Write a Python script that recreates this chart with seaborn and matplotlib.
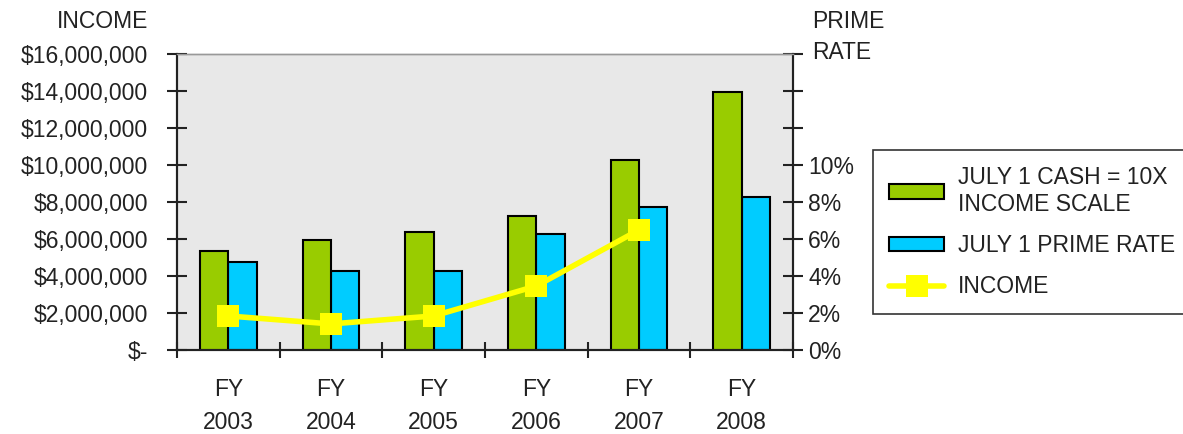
import matplotlib
matplotlib.use("Agg")
import matplotlib.pyplot as plt
import matplotlib.ticker as mticker
from matplotlib.lines import Line2D
from matplotlib.patches import Patch
import numpy as np
import pandas as pd
import seaborn as sns

# datos
years = ["2003", "2004", "2005", "2006", "2007", "2008"]
cash = [5370000, 5930000, 6370000, 7230000, 10270000, 13960000]   # julio 1 cash (escala 10x ingreso)
prime = [4.75, 4.25, 4.25, 6.25, 7.75, 8.25]                       # julio 1 prime rate (%)
income = [1840000, 1410000, 1840000, 3460000, 6490000, np.nan]     # ingreso

series_names = ["JULY 1 CASH = 10X\nINCOME SCALE", "JULY 1 PRIME RATE"]
colors = {series_names[0]: "#99CC00", series_names[1]: "#00CCFF"}
labels = ["FY\n" + y for y in years]

df_cash = pd.DataFrame({"year": labels, "value": cash, "series": series_names[0]})
df_prime = pd.DataFrame({"year": labels, "value": prime, "series": series_names[1]})

sns.set_theme(style="white")
plt.rcParams["font.family"] = ["Liberation Sans", "DejaVu Sans"]
size = 16.5
txt = "#222222"

fig = plt.figure(figsize=(11.83, 4.34), dpi=100)
ax = fig.add_axes([177 / 1183, 84 / 434, (793 - 177) / 1183, (350 - 54) / 434])
ax2 = ax.twinx()

# barras: cash en eje izquierdo, prime en eje derecho (misma escala 1% = $1M)
sns.barplot(data=df_cash, x="year", y="value", hue="series", hue_order=series_names,
            palette=colors, width=0.55, saturation=1, edgecolor="black", linewidth=1.5,
            dodge=True, legend=False, ax=ax)
sns.barplot(data=df_prime, x="year", y="value", hue="series", hue_order=series_names,
            palette=colors, width=0.55, saturation=1, edgecolor="black", linewidth=1.5,
            dodge=True, legend=False, ax=ax2)

# línea de ingreso sobre las barras
ax.set_zorder(ax2.get_zorder() + 1)
ax.patch.set_visible(False)
ax2.patch.set_visible(True)
ax2.patch.set_facecolor("#E8E8E8")
sns.lineplot(x=np.arange(len(years)), y=income, color="#FFFF00", lw=4, marker="s",
             markersize=16, markeredgewidth=0, ax=ax, zorder=5)

ax.set_xlim(-0.5, len(years) - 0.5)
ax.set_ylim(0, 16000000)
ax2.set_ylim(0, 16)

# ticks eje izquierdo
ax.set_yticks(np.arange(0, 16000001, 2000000))
ax.yaxis.set_major_formatter(mticker.FuncFormatter(
    lambda v, p: "$-" if v == 0 else "${:,.0f}".format(v)))
ax.tick_params(axis="y", direction="inout", length=14, width=1.5, color="#222222",
               labelsize=size, labelcolor=txt, pad=14, left=True)

# ticks eje derecho
rt = np.arange(0, 17, 2)
ax2.set_yticks(rt)
ax2.set_yticklabels([f"{v}%" if v <= 10 else "" for v in rt])
ax2.tick_params(axis="y", direction="inout", length=14, width=1.5, color="#222222",
                labelsize=size, labelcolor=txt, pad=4, right=True)

# ticks eje x: etiquetas al centro, marcas en los bordes
ax.set_xticks(np.arange(len(years)))
ax.set_xticklabels(labels, linespacing=1.55)
ax.set_xticks(np.arange(-0.5, len(years)), minor=True)
ax.tick_params(axis="x", which="major", length=0, labelsize=size, labelcolor=txt, pad=20)
ax.tick_params(axis="x", which="minor", direction="inout", length=11, width=1.5,
               color="#222222", bottom=True)
ax2.tick_params(axis="x", which="both", length=0, labelbottom=False)

ax.set_xlabel("")
ax.set_ylabel("")
ax2.set_ylabel("")

for a in (ax, ax2):
    for s in ["left", "bottom", "right"]:
        a.spines[s].set_color("#222222")
        a.spines[s].set_linewidth(1.5)
    a.spines["top"].set_color("#999999")
    a.spines["top"].set_linewidth(1)

# títulos de ejes
fig.text(148 / 1183, 1 - 22 / 434, "INCOME", ha="right", va="center", fontsize=size, color=txt)
fig.text(812 / 1183, 1 - 37 / 434, "PRIME\nRATE", ha="left", va="center", fontsize=size,
         color=txt, linespacing=1.45)

# leyenda
handles = [
    Patch(facecolor=colors[series_names[0]], edgecolor="black", linewidth=1.5),
    Patch(facecolor=colors[series_names[1]], edgecolor="black", linewidth=1.5),
    Line2D([], [], color="#FFFF00", lw=4, marker="s", markersize=16, markeredgewidth=0),
]
leg = fig.legend(handles, series_names + ["INCOME"], loc="upper left",
                 bbox_to_anchor=(873 / 1183, 1 - 150 / 434), borderaxespad=0,
                 frameon=True, fancybox=False, edgecolor="black", fontsize=size,
                 handlelength=2.4, handleheight=0.6, handletextpad=0.6,
                 labelspacing=0.8, borderpad=0.7, labelcolor=txt)
leg.get_frame().set_linewidth(1.2)

fig.savefig("out.png", dpi=100)
